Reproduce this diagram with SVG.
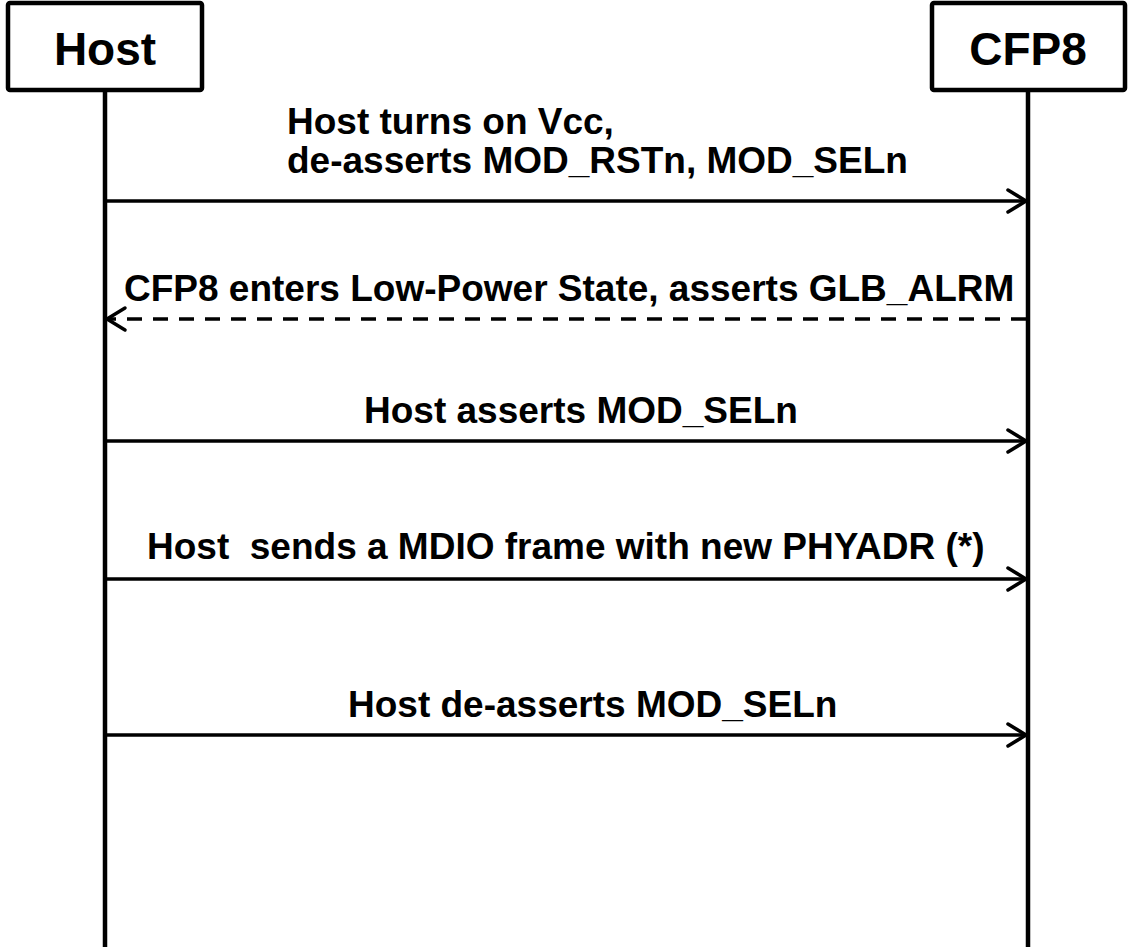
<svg xmlns="http://www.w3.org/2000/svg" width="1128" height="947" viewBox="0 0 1128 947">
<style>
.box{fill:#fff;stroke:#000;stroke-width:4.5}
.life{stroke:#000;stroke-width:4.5;fill:none}
.msg{stroke:#000;stroke-width:3.5;fill:none}
.dash{stroke-dasharray:15 11}
.head{stroke:#000;stroke-width:3.5;fill:none;stroke-linecap:round;stroke-linejoin:miter}
.hdr{font-family:"Liberation Sans",Arial,sans-serif;font-weight:bold;font-size:46px;fill:#000;text-anchor:middle}
.lbl{font-family:"Liberation Sans",Arial,sans-serif;font-weight:bold;font-size:37px;fill:#000;white-space:pre}
</style>
<rect width="1128" height="947" fill="#fff"/>
<g id="lifelines">
<line class="life" x1="105" y1="90" x2="105" y2="947"/>
<line class="life" x1="1028" y1="90" x2="1028" y2="947"/>
</g>
<g id="host">
<rect class="box" x="8" y="3" width="194" height="87" rx="2"/>
<text class="hdr" x="105" y="65">Host</text>
</g>
<g id="cfp8">
<rect class="box" x="932" y="3" width="193" height="87" rx="2"/>
<text class="hdr" x="1028" y="65">CFP8</text>
</g>
<g id="connectors">
<line class="msg" x1="105" y1="201" x2="1026" y2="201"/>
<polyline class="head" points="1008,190 1026,201 1008,212"/>
<line class="msg dash" x1="1026" y1="319" x2="107" y2="319"/>
<polyline class="head" points="125,308 107,319 125,330"/>
<line class="msg" x1="105" y1="441" x2="1026" y2="441"/>
<polyline class="head" points="1008,430 1026,441 1008,452"/>
<line class="msg" x1="105" y1="579" x2="1026" y2="579"/>
<polyline class="head" points="1008,568 1026,579 1008,590"/>
<line class="msg" x1="105" y1="735" x2="1026" y2="735"/>
<polyline class="head" points="1008,724 1026,735 1008,746"/>
</g>
<g id="labels">
<text class="lbl" x="287" y="134">Host turns on Vcc,</text>
<text class="lbl" x="287" y="173">de-asserts MOD_RSTn, MOD_SELn</text>
<text class="lbl" x="124" y="301">CFP8 enters Low-Power State, asserts GLB_ALRM</text>
<text class="lbl" x="364" y="423">Host asserts MOD_SELn</text>
<text class="lbl" x="147" y="559">Host  sends a MDIO frame with new PHYADR (*)</text>
<text class="lbl" x="348" y="717">Host de-asserts MOD_SELn</text>
</g>
</svg>
